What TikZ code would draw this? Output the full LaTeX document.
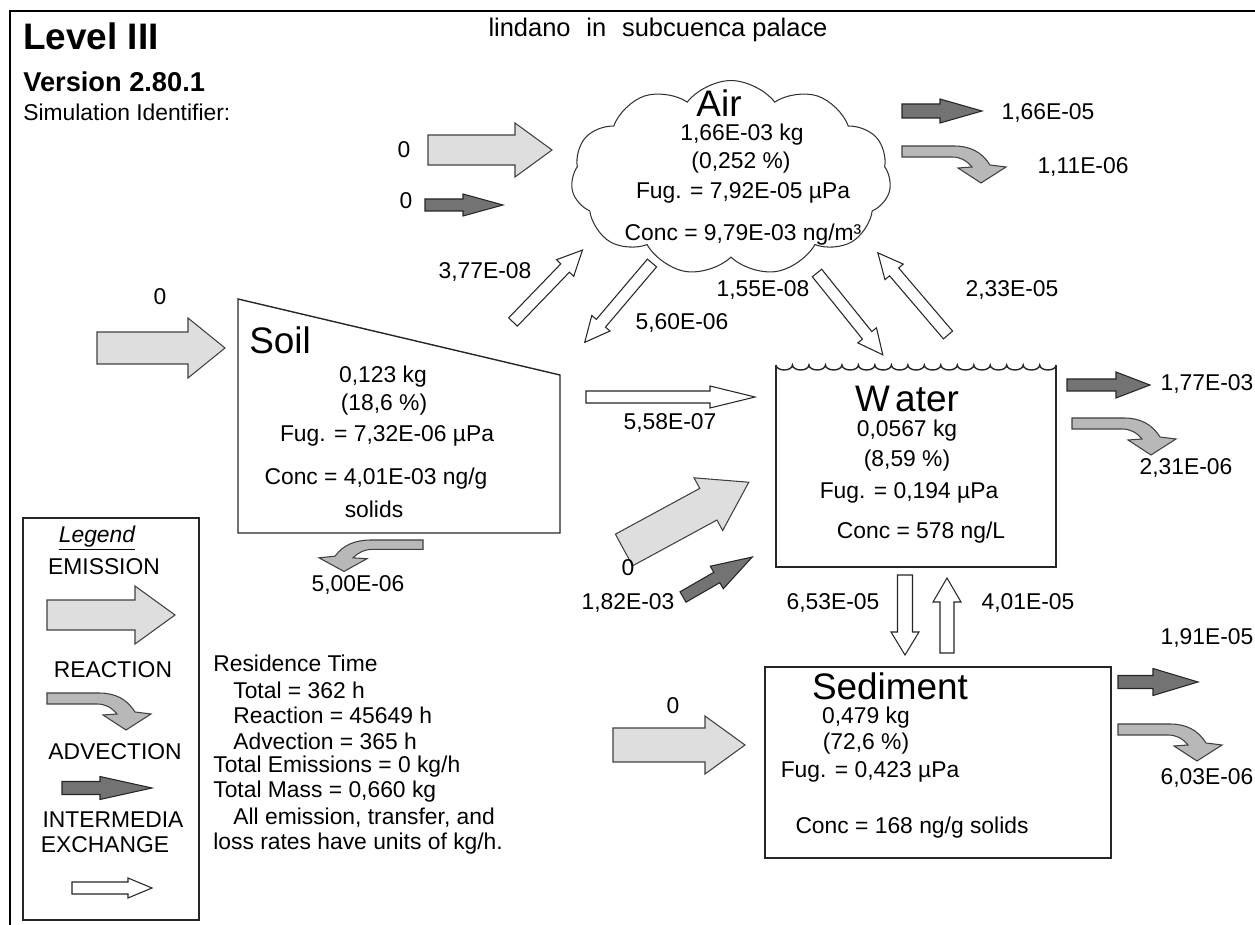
\documentclass[tikz,border=0pt]{standalone}
\usepackage{fontspec}
\setmainfont{Liberation Sans}
\usetikzlibrary{shapes.symbols}

\tikzset{
  emis/.style={draw=black!75,fill=black!13,line width=0.6pt},
  reac/.style={draw=black!75,fill=black!28,line width=0.6pt},
  advc/.style={draw=black!85,fill=black!55,line width=0.6pt},
  xchg/.style={draw=black!85,fill=white,line width=0.6pt},
  lbl/.style={font=\fontsize{13}{15}\selectfont,inner sep=0pt},
  big/.style={font=\fontsize{21}{24}\selectfont,inner sep=0pt},
  box/.style={draw=black!85,line width=0.8pt}
}
% block arrow: style, origin, angle, length, shaft half, head half, head length
\newcommand{\blockarrow}[7]{%
  \draw[#1,shift={#2},rotate=#3] (0,#5) -- ({#4-#7},#5) -- ({#4-#7},#6) -- (#4,0)
    -- ({#4-#7},-#6) -- ({#4-#7},-#5) -- (0,-#5) -- cycle;}
% bent reaction arrow, origin = top left of the shaft
\newcommand{\reacarrow}[2][]{%
  \draw[reac,shift={#2},#1] (0,0) -- (52,0) .. controls (68,0) and (80,6) .. (88,19)
    -- (104,21) -- (79,37) -- (56,22) -- (70,21) .. controls (64,14) and (58,11) .. (50,11)
    -- (0,11) -- cycle;}

\begin{document}
\begin{tikzpicture}[x=0.02cm,y=-0.02cm]
  \useasboundingbox (0,0) rectangle (1255,925);
  \draw[line width=0.9pt] (1255,11) -- (10,11) -- (10,925);

  \node[anchor=west,inner sep=0pt,font=\fontsize{21}{24}\selectfont\bfseries] (level) at (23,36) {Level III};
  \node[anchor=west,inner sep=0pt,font=\fontsize{15.5}{18}\selectfont\bfseries] (version) at (23,82) {Version 2.80.1};
  \node[lbl,anchor=west] (simid) at (23,112) {Simulation Identifier:};
  \node[lbl,font=\fontsize{14.5}{17}\selectfont] (chem) at (658,30) {lindano\hspace{9pt}in\hspace{9pt}subcuenca palace};

  % air
  \node[cloud,cloud puffs=11,cloud puff arc=105,cloud ignores aspect,draw=black!80,line width=0.6pt,
    minimum width=6.4cm,minimum height=3.9cm] (air) at (731,178) {};
  \node[big] (airname) at (719,103) {Air};
  \node[lbl] (airmass) at (742,135) {1,66E-03 kg};
  \node[lbl] (airpct) at (741,163) {(0,252 \%)};
  \node[lbl] (airfug) at (743,193) {Fug. = 7,92E-05 µPa};
  \node[lbl] (airconc) at (743,235) {Conc = 9,79E-03 ng/m³};

  \blockarrow{emis}{(428,150)}{0}{124}{15}{27}{37}
  \node[lbl] (airemis) at (404,150) {0};
  \blockarrow{advc}{(425,205)}{0}{78}{6}{11}{40}
  \node[lbl] (airadvin) at (406,201) {0};
  \blockarrow{advc}{(902,111)}{0}{80}{7}{12}{42}
  \node[lbl] (airadv) at (1048,113) {1,66E-05};
  \reacarrow{(902,146)}
  \node[lbl] (airreac) at (1083,167) {1,11E-06};

  % soil
  \draw[box] (238,299) -- (560,375) -- (560,533) -- (238,533) -- cycle;
  \node[big,anchor=west] (soilname) at (249,340) {Soil};
  \node[lbl] (soilmass) at (383,377) {0,123 kg};
  \node[lbl] (soilpct) at (384,405) {(18,6 \%)};
  \node[lbl] (soilfug) at (387,436) {Fug. = 7,32E-06 µPa};
  \node[lbl] (soilconc) at (376,479) {Conc = 4,01E-03 ng/g};
  \node[lbl] (soilsol) at (374,509) {solids};
  \blockarrow{emis}{(97,348)}{0}{128}{16}{30}{37}
  \node[lbl] (soilemis) at (160,297) {0};
  \reacarrow[xscale=-1,yscale=0.85]{(423,540)}
  \node[lbl] (soilreac) at (358,585) {5,00E-06};

  % intermedia exchange
  \blockarrow{xchg}{(513,322)}{46}{100}{6}{12}{25}
  \node[lbl] (soilair) at (485,272) {3,77E-08};
  \blockarrow{xchg}{(652,263)}{229.7}{104}{6}{12}{25}
  \node[lbl] (airsoil) at (682,323) {5,60E-06};
  \blockarrow{xchg}{(586,397)}{0}{169}{6}{11}{45}
  \node[lbl] (soilwat) at (670,423) {5,58E-07};
  \blockarrow{xchg}{(817,273)}{-51.2}{105}{6}{12}{25}
  \node[lbl] (airwat) at (763,290) {1,55E-08};
  \blockarrow{xchg}{(948,335)}{130.5}{108}{6}{12}{25}
  \node[lbl] (watair) at (1012,290) {2,33E-05};
  \blockarrow{xchg}{(905,575)}{-90}{80}{7.5}{14}{23}
  \node[lbl] (watsed) at (833,603) {6,53E-05};
  \blockarrow{xchg}{(947,653)}{90}{75}{7}{14}{24}
  \node[lbl] (sedwat) at (1028,603) {4,01E-05};

  % water
  \draw[box] (776,365) foreach \i in {1,...,17} {arc[start angle=180,end angle=0,x radius=8.24,y radius=5]};
  \draw[box] (776,365) -- (776,567) -- (1056,567) -- (1056,365);
  \node[big] (watname) at (907,399) {W\hspace{3pt}ater};
  \node[lbl] (watmass) at (907,431) {0,0567 kg};
  \node[lbl] (watpct) at (907,461) {(8,59 \%)};
  \node[lbl] (watfug) at (909,493) {Fug. = 0,194 µPa};
  \node[lbl] (watconc) at (921,533) {Conc = 578 ng/L};
  \blockarrow{emis}{(624,550)}{28.5}{142}{18}{30}{46}
  \node[lbl] (watemis) at (628,568) {0};
  \blockarrow{advc}{(683,597)}{30}{80}{6}{13}{41}
  \node[lbl] (watadvin) at (628,603) {1,82E-03};
  \blockarrow{advc}{(1067,385)}{0}{83}{6}{13}{34}
  \node[lbl] (watadv) at (1207,384) {1,77E-03};
  \reacarrow{(1072,418)}
  \node[lbl] (watreac) at (1186,468) {2,31E-06};

  % sediment
  \draw[box] (765,667) rectangle (1111,858);
  \node[big] (sedname) at (890,686) {Sediment};
  \node[lbl] (sedmass) at (866,718) {0,479 kg};
  \node[lbl] (sedpct) at (866,744) {(72,6 \%)};
  \node[lbl] (sedfug) at (870,772) {Fug. = 0,423 µPa};
  \node[lbl] (sedconc) at (912,828) {Conc = 168 ng/g solids};
  \blockarrow{emis}{(613,745)}{0}{132}{17}{29}{40}
  \node[lbl] (sedemis) at (673,706) {0};
  \blockarrow{advc}{(1118,682)}{0}{80}{6.5}{13.5}{45}
  \node[lbl] (sedadv) at (1207,638) {1,91E-05};
  \reacarrow{(1118,724)}
  \node[lbl] (sedreac) at (1207,778) {6,03E-06};

  % residence time
  \node[lbl,anchor=west] (rt) at (213,663) {Residence Time};
  \node[lbl,anchor=west] (rttot) at (233,690) {Total = 362 h};
  \node[lbl,anchor=west] (rtreac) at (233,715) {Reaction = 45649 h};
  \node[lbl,anchor=west] (rtadv) at (233,741) {Advection = 365 h};
  \node[lbl,anchor=west] (totemis) at (213,767) {Total Emissions = 0 kg/h};
  \node[lbl,anchor=west] (totmass) at (213,792) {Total Mass = 0,660 kg};
  \node[lbl,anchor=west] (units1) at (233,818) {All emission, transfer, and};
  \node[lbl,anchor=west] (units2) at (213,844) {loss rates have units of kg/h.};

  % legend
  \draw[box] (23,518) rectangle (199,920);
  \node[lbl] (leg) at (97,538) {\itshape\underline{Legend}};
  \node[lbl] (legemis) at (104,567) {EMISSION};
  \blockarrow{emis}{(47,615)}{0}{128}{15}{29}{40}
  \node[lbl] (legreac) at (113,670) {REACTION};
  \reacarrow{(47,693)}
  \node[lbl] (legadv) at (115,752) {ADVECTION};
  \blockarrow{advc}{(62,788)}{0}{90}{6.5}{11.5}{52}
  \node[lbl] (legx1) at (113,820) {INTERMEDIA};
  \node[lbl] (legx2) at (105,845) {EXCHANGE};
  \blockarrow{xchg}{(72,888)}{0}{80}{6}{10}{24}
\end{tikzpicture}
\end{document}
